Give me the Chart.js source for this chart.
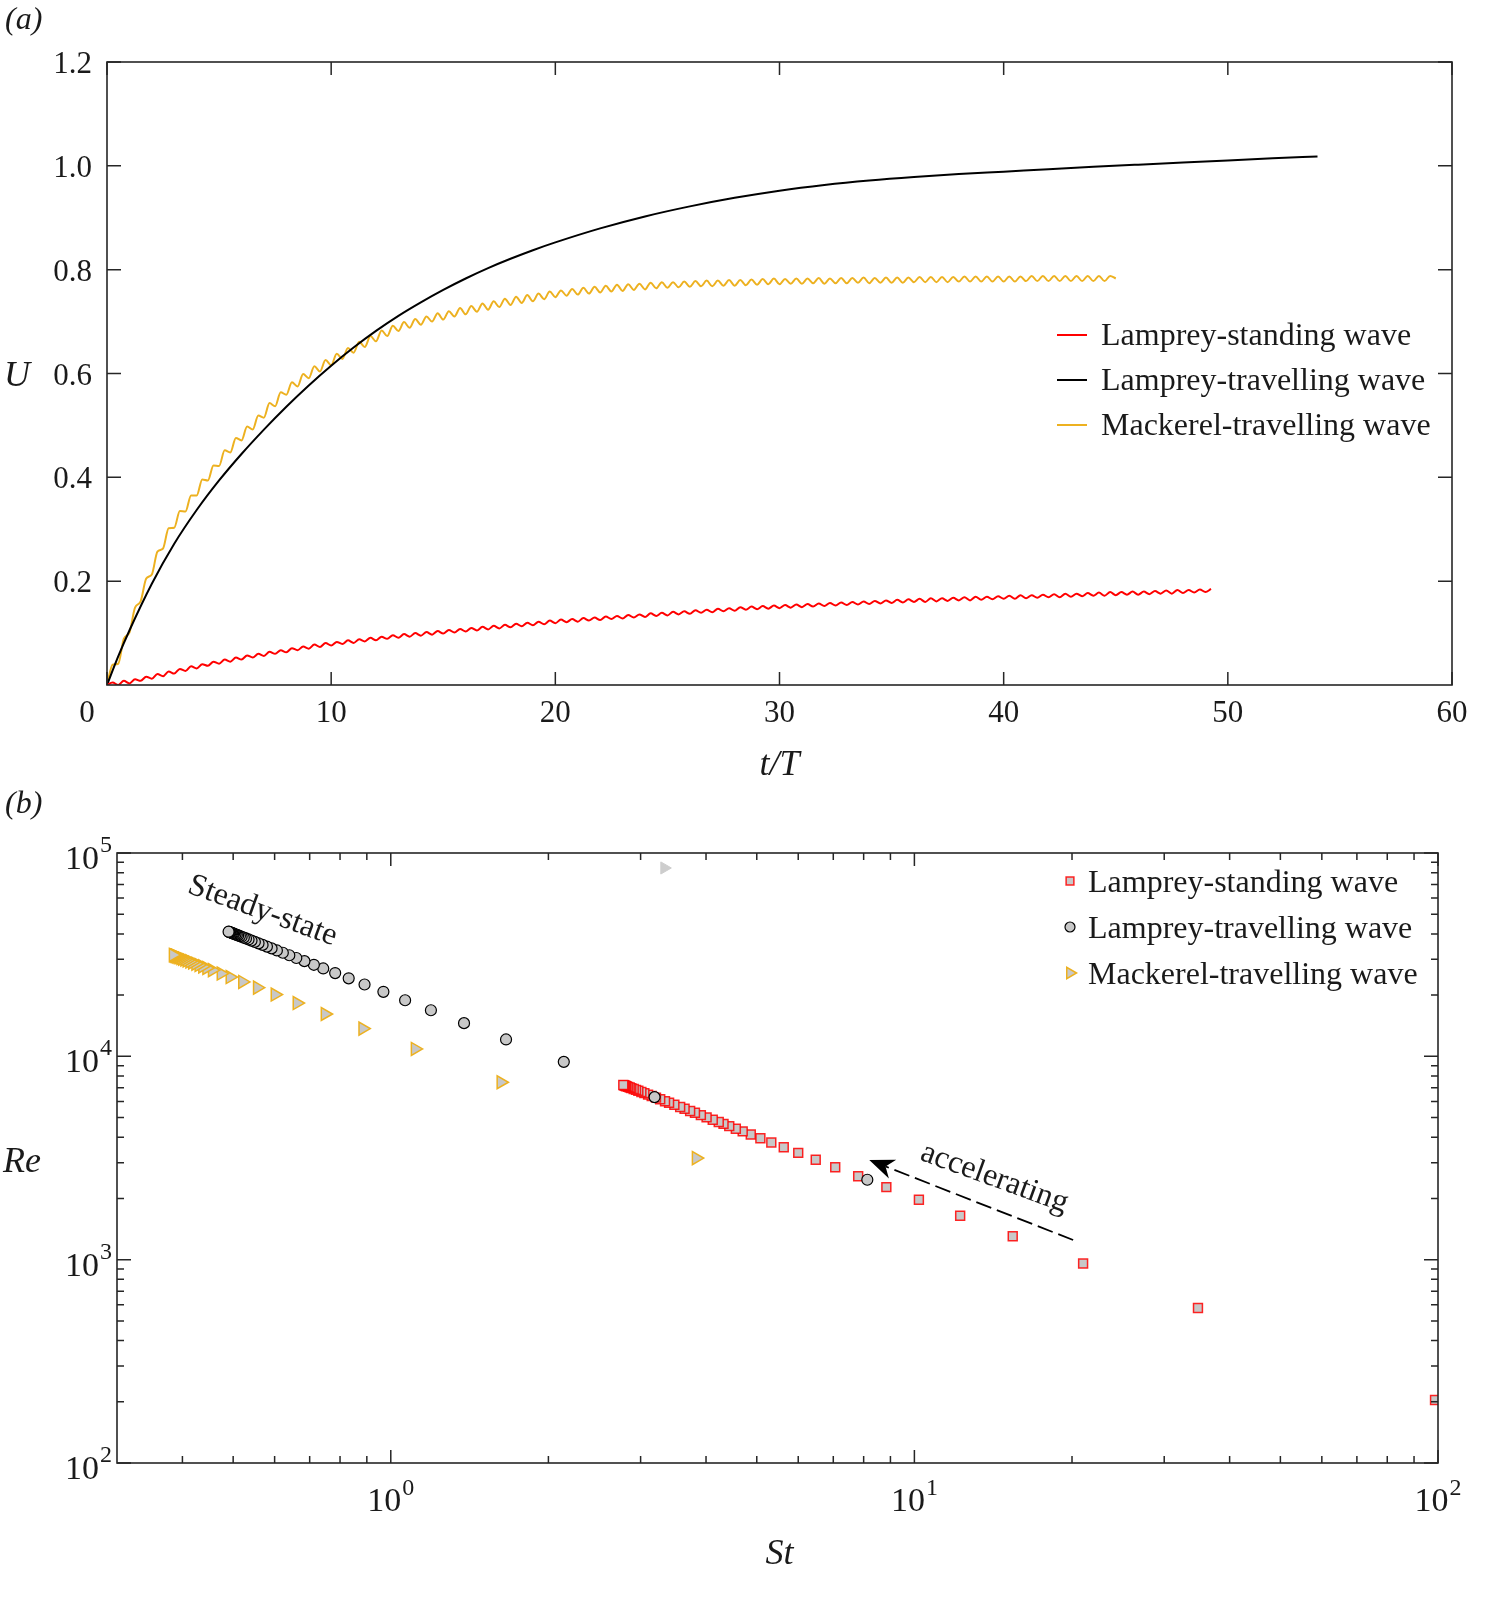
<!DOCTYPE html>
<html>
<head>
<meta charset="utf-8">
<script src="https://cdn.jsdelivr.net/npm/chart.js@4.4.1/dist/chart.umd.min.js"></script>
<style>
html,body{margin:0;padding:0;background:#fff;}
#wrap{position:relative;width:1498px;height:1600px;overflow:hidden;}
#c1{position:absolute;left:0;top:0;}
#c2{position:absolute;left:0;top:770px;}
</style>
</head>
<body>
<div id="wrap">
<canvas id="c1" width="1498" height="800"></canvas>
<canvas id="c2" width="1498" height="830"></canvas>
</div>
<script>
// ---------------- panel (a) data ----------------
const SAMPLE_DT = 0.25; // t/T spacing of the sampled (oscillating) series
const labelsA = ['Lamprey-standing wave', 'Lamprey-travelling wave', 'Mackerel-travelling wave'];
const uLampreyStanding = [
0.000,0.005,0.000,0.008, 0.003,0.011,0.008,0.016, 0.012,0.021,0.017,0.026, 0.022,0.031,0.027,0.036,
0.032,0.040,0.037,0.045, 0.041,0.049,0.045,0.053, 0.049,0.057,0.053,0.060, 0.056,0.064,0.060,0.067,
0.063,0.071,0.067,0.074, 0.070,0.078,0.073,0.081, 0.076,0.083,0.079,0.086, 0.081,0.088,0.084,0.091,
0.086,0.093,0.089,0.096, 0.091,0.098,0.093,0.100, 0.095,0.102,0.097,0.104, 0.099,0.106,0.101,0.108,
0.103,0.110,0.105,0.112, 0.107,0.114,0.109,0.116, 0.111,0.118,0.113,0.120, 0.115,0.122,0.117,0.124,
0.119,0.126,0.121,0.127, 0.122,0.129,0.124,0.130, 0.125,0.132,0.127,0.133, 0.128,0.135,0.130,0.136,
0.131,0.138,0.133,0.139, 0.134,0.141,0.136,0.142, 0.137,0.144,0.139,0.145, 0.140,0.147,0.142,0.148,
0.143,0.150,0.145,0.151, 0.146,0.152,0.147,0.153, 0.148,0.154,0.149,0.155, 0.150,0.156,0.151,0.157,
0.152,0.158,0.153,0.159, 0.154,0.160,0.155,0.161, 0.156,0.162,0.157,0.163, 0.158,0.164,0.159,0.165,
0.160,0.166,0.160,0.167, 0.161,0.167,0.162,0.168, 0.163,0.169,0.163,0.170, 0.164,0.170,0.165,0.171,
0.166,0.172,0.166,0.173, 0.167,0.173,0.168,0.174, 0.169,0.175,0.169,0.176, 0.170,0.176,0.171,0.177,
0.172,0.178,0.172,0.179, 0.173,0.179,0.174,0.180, 0.174,0.180,0.175,0.181, 0.176,0.182,0.176,0.183,
0.177,0.183,0.178,0.184, 0.179,0.185
];
const uMackerel = [
0.000,0.039,0.041,0.089,0.101,0.149,0.161,0.205,0.213,0.257,
0.263,0.302,0.303,0.335,0.334,0.365,0.365,0.396,0.394,0.423,
0.422,0.452,0.448,0.476,0.471,0.498,0.492,0.519,0.515,0.543,
0.537,0.564,0.559,0.583,0.575,0.599,0.591,0.614,0.604,0.626,
0.616,0.638,0.628,0.649,0.640,0.661,0.651,0.672,0.662,0.683,
0.672,0.692,0.682,0.699,0.688,0.705,0.694,0.710,0.700,0.716,
0.704,0.720,0.710,0.726,0.714,0.730,0.719,0.735,0.723,0.739,
0.728,0.744,0.732,0.748,0.736,0.751,0.739,0.754,0.743,0.758,
0.747,0.760,0.750,0.763,0.752,0.765,0.754,0.767,0.756,0.769,
0.758,0.771,0.759,0.772,0.761,0.773,0.762,0.775,0.764,0.776,
0.765,0.776,0.766,0.777,0.767,0.778,0.768,0.779,0.768,0.779,
0.769,0.780,0.769,0.780,0.770,0.781,0.771,0.782,0.772,0.783,
0.772,0.782,0.773,0.783,0.773,0.783,0.774,0.784,0.773,0.783,
0.774,0.784,0.774,0.784,0.775,0.785,0.774,0.784,0.775,0.785,
0.775,0.785,0.775,0.785,0.776,0.786,0.776,0.786,0.776,0.786,
0.776,0.786,0.777,0.787,0.777,0.787,0.777,0.787,0.777,0.787,
0.777,0.787,0.777,0.787,0.778,0.788,0.778,0.788,0.778,0.788,
0.778,0.788,0.778,0.788,0.778,0.788,0.778,0.788,0.778,0.788,
0.783
];
const tLampreyTravelling = [0,0.5,1,2,3,4,5,6,7,8,9,10,11,12,13,14,15,16,17,18,19,20,22,24,26,28,30,32,34,36,38,40,42,44,46,48,50,52,54];
const uLampreyTravelling = [0,0.055,0.105,0.195,0.272,0.337,0.394,0.445,0.492,0.536,0.577,0.615,0.650,0.682,0.711,0.737,0.761,0.783,0.803,0.821,0.8375,0.8525,0.8795,0.9025,0.9219,0.9384,0.9522,0.9632,0.9719,0.9787,0.9842,0.9888,0.9935,0.998,1.0023,1.0065,1.0105,1.0144,1.0182];
const tickT = [0,10,20,30,40,50,60];
const tickU = [0.2,0.4,0.6,0.8,1.0,1.2];

// ---------------- panel (b) data ----------------
const labelsB = ['Lamprey-standing wave', 'Lamprey-travelling wave', 'Mackerel-travelling wave'];
const stLampreyStanding = [98.7,34.8,21.0,15.41,12.23,10.2,8.84,7.81,7.06,6.48,6.00,5.63,5.33,5.08,4.87,4.70,4.56,4.43,4.32,4.23,4.12,4.01,3.91,3.81,3.73,3.64,3.57,3.48,3.40,3.34,3.27,3.21,3.15,3.10,3.05,3.01,2.97,2.94,2.91,2.88,2.86,2.84,2.82,2.81,2.80,2.79,2.78];
const reLampreyStanding = [204,578,957,1304,1643,1971,2274,2574,2847,3102,3350,3570,3771,3957,4127,4277,4408,4537,4653,4752,4879,5012,5141,5276,5389,5522,5630,5776,5912,6018,6147,6262,6381,6484,6590,6678,6768,6837,6907,6979,7028,7077,7128,7153,7179,7204,7230];
const stLampreyTravelling = [8.13,3.19,2.14,1.66,1.38,1.193,1.065,0.968,0.891,0.831,0.783,0.743,0.713,0.684,0.66,0.64,0.622,0.606,0.592,0.58,0.569,0.559,0.55,0.542,0.535,0.529,0.524,0.519,0.515,0.511,0.508,0.505,0.502,0.50,0.498,0.496,0.494,0.493,0.492,0.491,0.49];
const reLampreyTravelling = [2472,6301,9393,12108,14565,16848,18873,20764,22559,24188,25670,27052,28191,29386,30455,31406,32315,33168,33953,34655,35325,35957,36545,37085,37570,37996,38359,38728,39029,39335,39567,39802,40040,40200,40361,40524,40688,40771,40854,40937,41020];
const stMackerel = [3.83,1.623,1.113,0.884,0.749,0.662,0.601,0.556,0.521,0.493,0.474,0.456,0.445,0.437,0.43,0.424,0.418,0.413,0.408,0.404,0.400,0.397,0.394,0.392,0.390,0.388,0.387,0.386,0.385,0.384];
const reMackerel = [3159,7455,10872,13688,16155,18278,20133,21763,23225,24544,25527,26535,27191,27689,28140,28538,28947,29298,29657,29950,30250,30479,30711,30867,31026,31186,31266,31347,31429,31510];
const stStray = [3.33];
const reStray = [84400];
const tickStMajor = [1,10,100];
const tickStMinor = [0.4,0.5,0.6,0.7,0.8,0.9,2,3,4,5,6,7,8,9,20,30,40,50,60,70,80,90];
const tickReMajor = [100,1000,10000,100000];
const tickReMinor = [200,300,400,500,600,700,800,900,2000,3000,4000,5000,6000,7000,8000,9000,20000,30000,40000,50000,60000,70000,80000,90000];
const annSteady = {st: 0.569, re: 51840, text: 'Steady-state', angle: 20};
const annAccel = {st: 14.22, re: 2520, text: 'accelerating', angle: 20};
const arrowFrom = {st: 20.1, re: 1249};
const arrowTo = {st: 8.2, re: 3090};

// ---------------- styles ----------------
const SERIF = "'Liberation Serif', 'Times New Roman', serif";
const INK = '#1a1a1a';
const FRAME = '#262626';
const RED = '#ff0000';
const GOLD = 'rgb(237,177,32)';
const GREY = 'rgb(200,200,200)';

const sampled = arr => arr.map((u, i) => ({x: i * SAMPLE_DT, y: u}));
const paired = (xs, ys) => xs.map((v, i) => ({x: v, y: ys[i]}));

function drawFrame(ctx, a) {
  ctx.strokeStyle = FRAME; ctx.lineWidth = 1.6;
  ctx.strokeRect(a.left, a.top, a.right - a.left, a.bottom - a.top);
}
function xTicks(ctx, a, sx, vals, len) {
  ctx.beginPath();
  vals.forEach(v => { const p = sx.getPixelForValue(v);
    ctx.moveTo(p, a.bottom); ctx.lineTo(p, a.bottom - len);
    ctx.moveTo(p, a.top); ctx.lineTo(p, a.top + len); });
  ctx.stroke();
}
function yTicks(ctx, a, sy, vals, len) {
  ctx.beginPath();
  vals.forEach(v => { const p = sy.getPixelForValue(v);
    ctx.moveTo(a.left, p); ctx.lineTo(a.left + len, p);
    ctx.moveTo(a.right, p); ctx.lineTo(a.right - len, p); });
  ctx.stroke();
}

// ---------------- panel (a) ----------------
const panelA = {
  id: 'panelA',
  afterDraw(chart) {
    const {ctx, chartArea: a, scales: {x, y}} = chart;
    ctx.save();
    drawFrame(ctx, a);
    ctx.lineWidth = 1.5;
    xTicks(ctx, a, x, tickT, 13);
    yTicks(ctx, a, y, tickU, 14);
    ctx.fillStyle = INK;
    ctx.font = `31px ${SERIF}`;
    ctx.textBaseline = 'alphabetic';
    ctx.textAlign = 'center';
    tickT.forEach(v => { if (v !== 0) ctx.fillText(String(v), x.getPixelForValue(v), a.bottom + 37); });
    ctx.fillText('0', a.left - 20, a.bottom + 37);
    ctx.textAlign = 'right';
    tickU.forEach(v => ctx.fillText(v.toFixed(1), a.left - 15, y.getPixelForValue(v) + 11));
    ctx.font = `italic 36px ${SERIF}`;
    ctx.textAlign = 'center';
    ctx.fillText('t/T', (a.left + a.right) / 2, a.bottom + 90);
    ctx.fillText('U', 17, y.getPixelForValue(0.6) + 12);
    ctx.font = `italic 32px ${SERIF}`;
    ctx.textAlign = 'left';
    ctx.fillText('(a)', 5, 29);
    // legend
    const ds = chart.data.datasets;
    ctx.font = `32px ${SERIF}`;
    ds.forEach((d, i) => {
      const yy = a.top + 273 + i * 45;
      ctx.strokeStyle = d.borderColor; ctx.lineWidth = 2;
      ctx.beginPath(); ctx.moveTo(a.left + 950, yy); ctx.lineTo(a.left + 980, yy); ctx.stroke();
      ctx.fillStyle = INK;
      ctx.fillText(d.label, a.left + 994, yy + 10);
    });
    ctx.restore();
  }
};

new Chart(document.getElementById('c1'), {
  type: 'scatter',
  data: {
    datasets: [
      {label: labelsA[0], data: sampled(uLampreyStanding), showLine: true, borderColor: RED, borderWidth: 2, pointRadius: 0, cubicInterpolationMode: 'monotone'},
      {label: labelsA[1], data: paired(tLampreyTravelling, uLampreyTravelling), showLine: true, borderColor: '#000000', borderWidth: 2, pointRadius: 0, cubicInterpolationMode: 'monotone'},
      {label: labelsA[2], data: sampled(uMackerel), showLine: true, borderColor: GOLD, borderWidth: 2, pointRadius: 0, cubicInterpolationMode: 'monotone'}
    ]
  },
  options: {
    responsive: false,
    animation: false,
    events: [],
    layout: {padding: {top: 62, right: 46, left: 0, bottom: 0}},
    plugins: {legend: {display: false}, tooltip: {enabled: false}},
    scales: {
      x: {type: 'linear', min: 0, max: 60, grid: {display: false, drawTicks: false}, border: {display: false}, ticks: {display: false}, afterFit(s) { s.height = 115; }},
      y: {type: 'linear', min: 0, max: 1.2, grid: {display: false, drawTicks: false}, border: {display: false}, ticks: {display: false}, afterFit(s) { s.width = 107; }}
    }
  },
  plugins: [panelA]
});

// ---------------- panel (b) ----------------
function pow10(ctx, exp, ax, base, align, rise) {
  const big = `34px ${SERIF}`, small = `24px ${SERIF}`;
  ctx.font = big; const w1 = ctx.measureText('10').width;
  ctx.font = small; const w2 = ctx.measureText(String(exp)).width;
  const tot = w1 + w2 + 1;
  const left = align === 'center' ? ax - tot / 2 : ax - tot;
  ctx.textAlign = 'left';
  ctx.font = big; ctx.fillText('10', left, base);
  ctx.font = small; ctx.fillText(String(exp), left + w1 + 1, base - rise);
}
function marker(ctx, kind, cx, cy, r, fill, stroke, lw) {
  ctx.save();
  ctx.fillStyle = fill; ctx.strokeStyle = stroke; ctx.lineWidth = lw;
  ctx.beginPath();
  if (kind === 'rect') { const h = r * Math.SQRT1_2; ctx.rect(cx - h, cy - h, 2 * h, 2 * h); }
  else if (kind === 'circle') { ctx.arc(cx, cy, r, 0, Math.PI * 2); }
  else { ctx.moveTo(cx + r, cy); ctx.lineTo(cx - r / 2, cy - r * 0.866); ctx.lineTo(cx - r / 2, cy + r * 0.866); ctx.closePath(); }
  ctx.fill(); ctx.stroke();
  ctx.restore();
}

const panelB = {
  id: 'panelB',
  afterDraw(chart) {
    const {ctx, chartArea: a, scales: {x, y}} = chart;
    ctx.save();
    drawFrame(ctx, a);
    ctx.lineWidth = 1.5;
    xTicks(ctx, a, x, tickStMajor, 13);
    xTicks(ctx, a, x, tickStMinor, 7);
    yTicks(ctx, a, y, tickReMajor, 14);
    yTicks(ctx, a, y, tickReMinor, 7);
    ctx.fillStyle = INK;
    ctx.textBaseline = 'alphabetic';
    tickStMajor.forEach(v => pow10(ctx, Math.round(Math.log10(v)), x.getPixelForValue(v), a.bottom + 48, 'center', 16));
    tickReMajor.forEach(v => pow10(ctx, Math.round(Math.log10(v)), a.left - 5, y.getPixelForValue(v) + 16, 'right', 17));
    ctx.font = `italic 36px ${SERIF}`;
    ctx.textAlign = 'center';
    ctx.fillText('St', (a.left + a.right) / 2 + 2, a.bottom + 101);
    ctx.fillText('Re', 22, (a.top + a.bottom) / 2 + 14);
    ctx.font = `italic 32px ${SERIF}`;
    ctx.textAlign = 'left';
    ctx.fillText('(b)', 5, 43);

    // annotations
    ctx.font = `32px ${SERIF}`;
    ctx.textAlign = 'center';
    ctx.textBaseline = 'middle';
    [annSteady, annAccel].forEach(an => {
      ctx.save();
      ctx.translate(x.getPixelForValue(an.st), y.getPixelForValue(an.re));
      ctx.rotate(an.angle * Math.PI / 180);
      ctx.fillText(an.text, 0, 0);
      ctx.restore();
    });
    // dashed arrow
    const x0 = x.getPixelForValue(arrowFrom.st), y0 = y.getPixelForValue(arrowFrom.re);
    const x1 = x.getPixelForValue(arrowTo.st), y1 = y.getPixelForValue(arrowTo.re);
    const ang = Math.atan2(y1 - y0, x1 - x0), L = 25, W = 10;
    const ca = Math.cos(ang), sa = Math.sin(ang);
    const bx = x1 - L * ca, by = y1 - L * sa;
    ctx.strokeStyle = '#000'; ctx.lineWidth = 1.8;
    ctx.setLineDash([16, 6]);
    ctx.beginPath(); ctx.moveTo(x0, y0); ctx.lineTo(x1 - 0.7 * L * ca, y1 - 0.7 * L * sa); ctx.stroke();
    ctx.setLineDash([]);
    ctx.fillStyle = '#000';
    ctx.beginPath();
    ctx.moveTo(x1, y1);
    ctx.lineTo(bx - W * sa, by + W * ca);
    ctx.lineTo(x1 - 0.7 * L * ca, y1 - 0.7 * L * sa);
    ctx.lineTo(bx + W * sa, by - W * ca);
    ctx.closePath(); ctx.fill();

    // legend
    const ds = chart.data.datasets.filter(d => d.label);
    ctx.textBaseline = 'alphabetic';
    ctx.textAlign = 'left';
    ctx.font = `32px ${SERIF}`;
    const legendOrder = [labelsB[0], labelsB[1], labelsB[2]];
    legendOrder.forEach((lab, i) => {
      const d = ds.find(e => e.label === lab);
      const yy = a.top + 28 + i * 46;
      const kind = d.pointStyle === 'triangle' ? 'tri' : d.pointStyle;
      const r = kind === 'rect' ? 5.5 : (kind === 'circle' ? 5 : 6.5);
      marker(ctx, kind, a.left + 953, yy, r, d.backgroundColor, d.borderColor, d.borderWidth);
      ctx.fillStyle = INK;
      ctx.fillText(lab, a.left + 971, yy + 11);
    });
    ctx.restore();
  }
};

new Chart(document.getElementById('c2'), {
  type: 'scatter',
  data: {
    datasets: [
      {label: labelsB[1], data: paired(stLampreyTravelling, reLampreyTravelling), pointStyle: 'circle', pointRadius: 5.5, backgroundColor: GREY, borderColor: '#000000', borderWidth: 1.2, order: 0},
      {label: labelsB[0], data: paired(stLampreyStanding, reLampreyStanding), pointStyle: 'rect', pointRadius: 6.3, backgroundColor: GREY, borderColor: 'rgba(255,0,0,0.85)', borderWidth: 1.5, order: 1},
      {label: labelsB[2], data: paired(stMackerel, reMackerel), pointStyle: 'triangle', pointRotation: 90, pointRadius: 7.5, backgroundColor: GREY, borderColor: GOLD, borderWidth: 1.5, order: 2},
      {label: '', data: paired(stStray, reStray), pointStyle: 'triangle', pointRotation: 90, pointRadius: 7, backgroundColor: 'rgb(205,205,205)', borderColor: 'rgb(205,205,205)', borderWidth: 1, order: 3}
    ]
  },
  options: {
    responsive: false,
    animation: false,
    events: [],
    layout: {padding: {top: 83, right: 60, left: 0, bottom: 0}},
    plugins: {legend: {display: false}, tooltip: {enabled: false}},
    scales: {
      x: {type: 'logarithmic', min: 0.3, max: 100, bounds: 'data', grid: {display: false, drawTicks: false}, border: {display: false}, ticks: {display: false}, afterFit(s) { s.height = 137; }},
      y: {type: 'logarithmic', min: 100, max: 100000, bounds: 'data', grid: {display: false, drawTicks: false}, border: {display: false}, ticks: {display: false}, afterFit(s) { s.width = 117; }}
    }
  },
  plugins: [panelB]
});
</script>
</body>
</html>
